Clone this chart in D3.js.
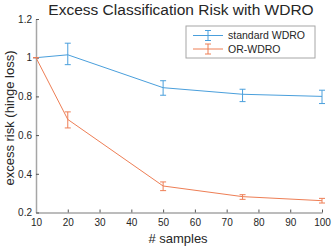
<!DOCTYPE html>
<html><head>
<meta charset="utf-8">
<script src="https://d3js.org/d3.v7.min.js"></script>
<style>
  body { margin: 0; background: #fff; }
  text { font-family: "Liberation Sans", Arial, sans-serif; fill: #262626; }
</style>
</head>
<body>
<svg id="chart" width="332" height="250"></svg>
<script>
// data
const samples = [10, 20, 50, 75, 100];
const standardMean = [1.0, 1.015, 0.845, 0.811, 0.800];
const standardLow  = [1.0, 0.964, 0.806, 0.773, 0.763];
const standardHigh = [1.0, 1.075, 0.881, 0.837, 0.832];
const orMean = [1.0, 0.681, 0.337, 0.282, 0.261];
const orLow  = [1.0, 0.637, 0.313, 0.268, 0.249];
const orHigh = [1.0, 0.720, 0.358, 0.292, 0.273];
const seriesNames = ["standard WDRO", "OR-WDRO"];
const xTicks = [10, 20, 30, 40, 50, 60, 70, 80, 90, 100];
const yTicks = [0.2, 0.4, 0.6, 0.8, 1, 1.2];

const colors = ["#4a9fdc", "#ee7e55"];
const svg = d3.select("#chart");
const m = {left: 36, right: 10, top: 19, bottom: 37.5};
const W = 332, H = 250;

const x = d3.scaleLinear().domain([10, 100]).range([m.left, W - m.right]);
const y = d3.scaleLinear().domain([0.2, 1.2]).range([H - m.bottom, m.top]);

// axes
const xAxis = svg.append("g").attr("transform", `translate(0,${H - m.bottom})`)
  .call(d3.axisBottom(x).tickValues(xTicks).tickSizeInner(-3).tickSizeOuter(0).tickPadding(6));
const yAxis = svg.append("g").attr("transform", `translate(${m.left},0)`)
  .call(d3.axisLeft(y).tickValues(yTicks).tickSizeInner(-3).tickSizeOuter(0).tickPadding(4)
    .tickFormat(d => d3.format("~g")(d)));
[xAxis, yAxis].forEach(g => {
  g.select(".domain").attr("stroke", "#a6a6a6").attr("stroke-width", 1.5);
  g.selectAll(".tick line").attr("stroke", "#555");
  g.selectAll("text").attr("font-size", 10).attr("fill", "#262626")
    .style("font-family", "'Liberation Sans', Arial, sans-serif");
});

// series
const series = [
  {mean: standardMean, low: standardLow, high: standardHigh},
  {mean: orMean, low: orLow, high: orHigh}
];
const line = d3.line().x(d => x(d.s)).y(d => y(d.v));
series.forEach((s, i) => {
  const pts = samples.map((v, j) => ({s: v, v: s.mean[j], lo: s.low[j], hi: s.high[j]}));
  const g = svg.append("g").attr("stroke", colors[i]).attr("fill", "none");
  g.append("path").attr("d", line(pts)).attr("stroke-width", 1);
  pts.forEach(p => {
    const cx = x(p.s);
    g.append("line").attr("x1", cx).attr("x2", cx).attr("y1", y(p.lo)).attr("y2", y(p.hi));
    g.append("line").attr("x1", cx - 3).attr("x2", cx + 3).attr("y1", y(p.lo)).attr("y2", y(p.lo));
    g.append("line").attr("x1", cx - 3).attr("x2", cx + 3).attr("y1", y(p.hi)).attr("y2", y(p.hi));
  });
});

// title and labels
svg.append("text").attr("x", 181).attr("y", 15).attr("text-anchor", "middle")
  .attr("font-size", 15.5).text("Excess Classification Risk with WDRO");
svg.append("text").attr("x", 178).attr("y", 243).attr("text-anchor", "middle")
  .attr("font-size", 13).text("# samples");
svg.append("text").attr("transform", `translate(14,118) rotate(-90)`)
  .attr("text-anchor", "middle").attr("font-size", 13).text("excess risk (hinge loss)");

// legend
const lg = svg.append("g").attr("transform", "translate(186,26)");
lg.append("rect").attr("width", 129).attr("height", 32).attr("fill", "#fff")
  .attr("stroke", "#a6a6a6").attr("stroke-width", 1);
seriesNames.forEach((name, i) => {
  const ly = 9.5 + i * 13.5;
  const g = lg.append("g").attr("stroke", colors[i]);
  g.append("line").attr("x1", 7).attr("x2", 37).attr("y1", ly).attr("y2", ly);
  g.append("line").attr("x1", 22).attr("x2", 22).attr("y1", ly - 5).attr("y2", ly + 5);
  g.append("line").attr("x1", 19).attr("x2", 25).attr("y1", ly - 5).attr("y2", ly - 5);
  g.append("line").attr("x1", 19).attr("x2", 25).attr("y1", ly + 5).attr("y2", ly + 5);
  lg.append("text").attr("x", 42).attr("y", ly + 3.5).attr("font-size", 10.5).text(name);
});
</script>
</body>
</html>
